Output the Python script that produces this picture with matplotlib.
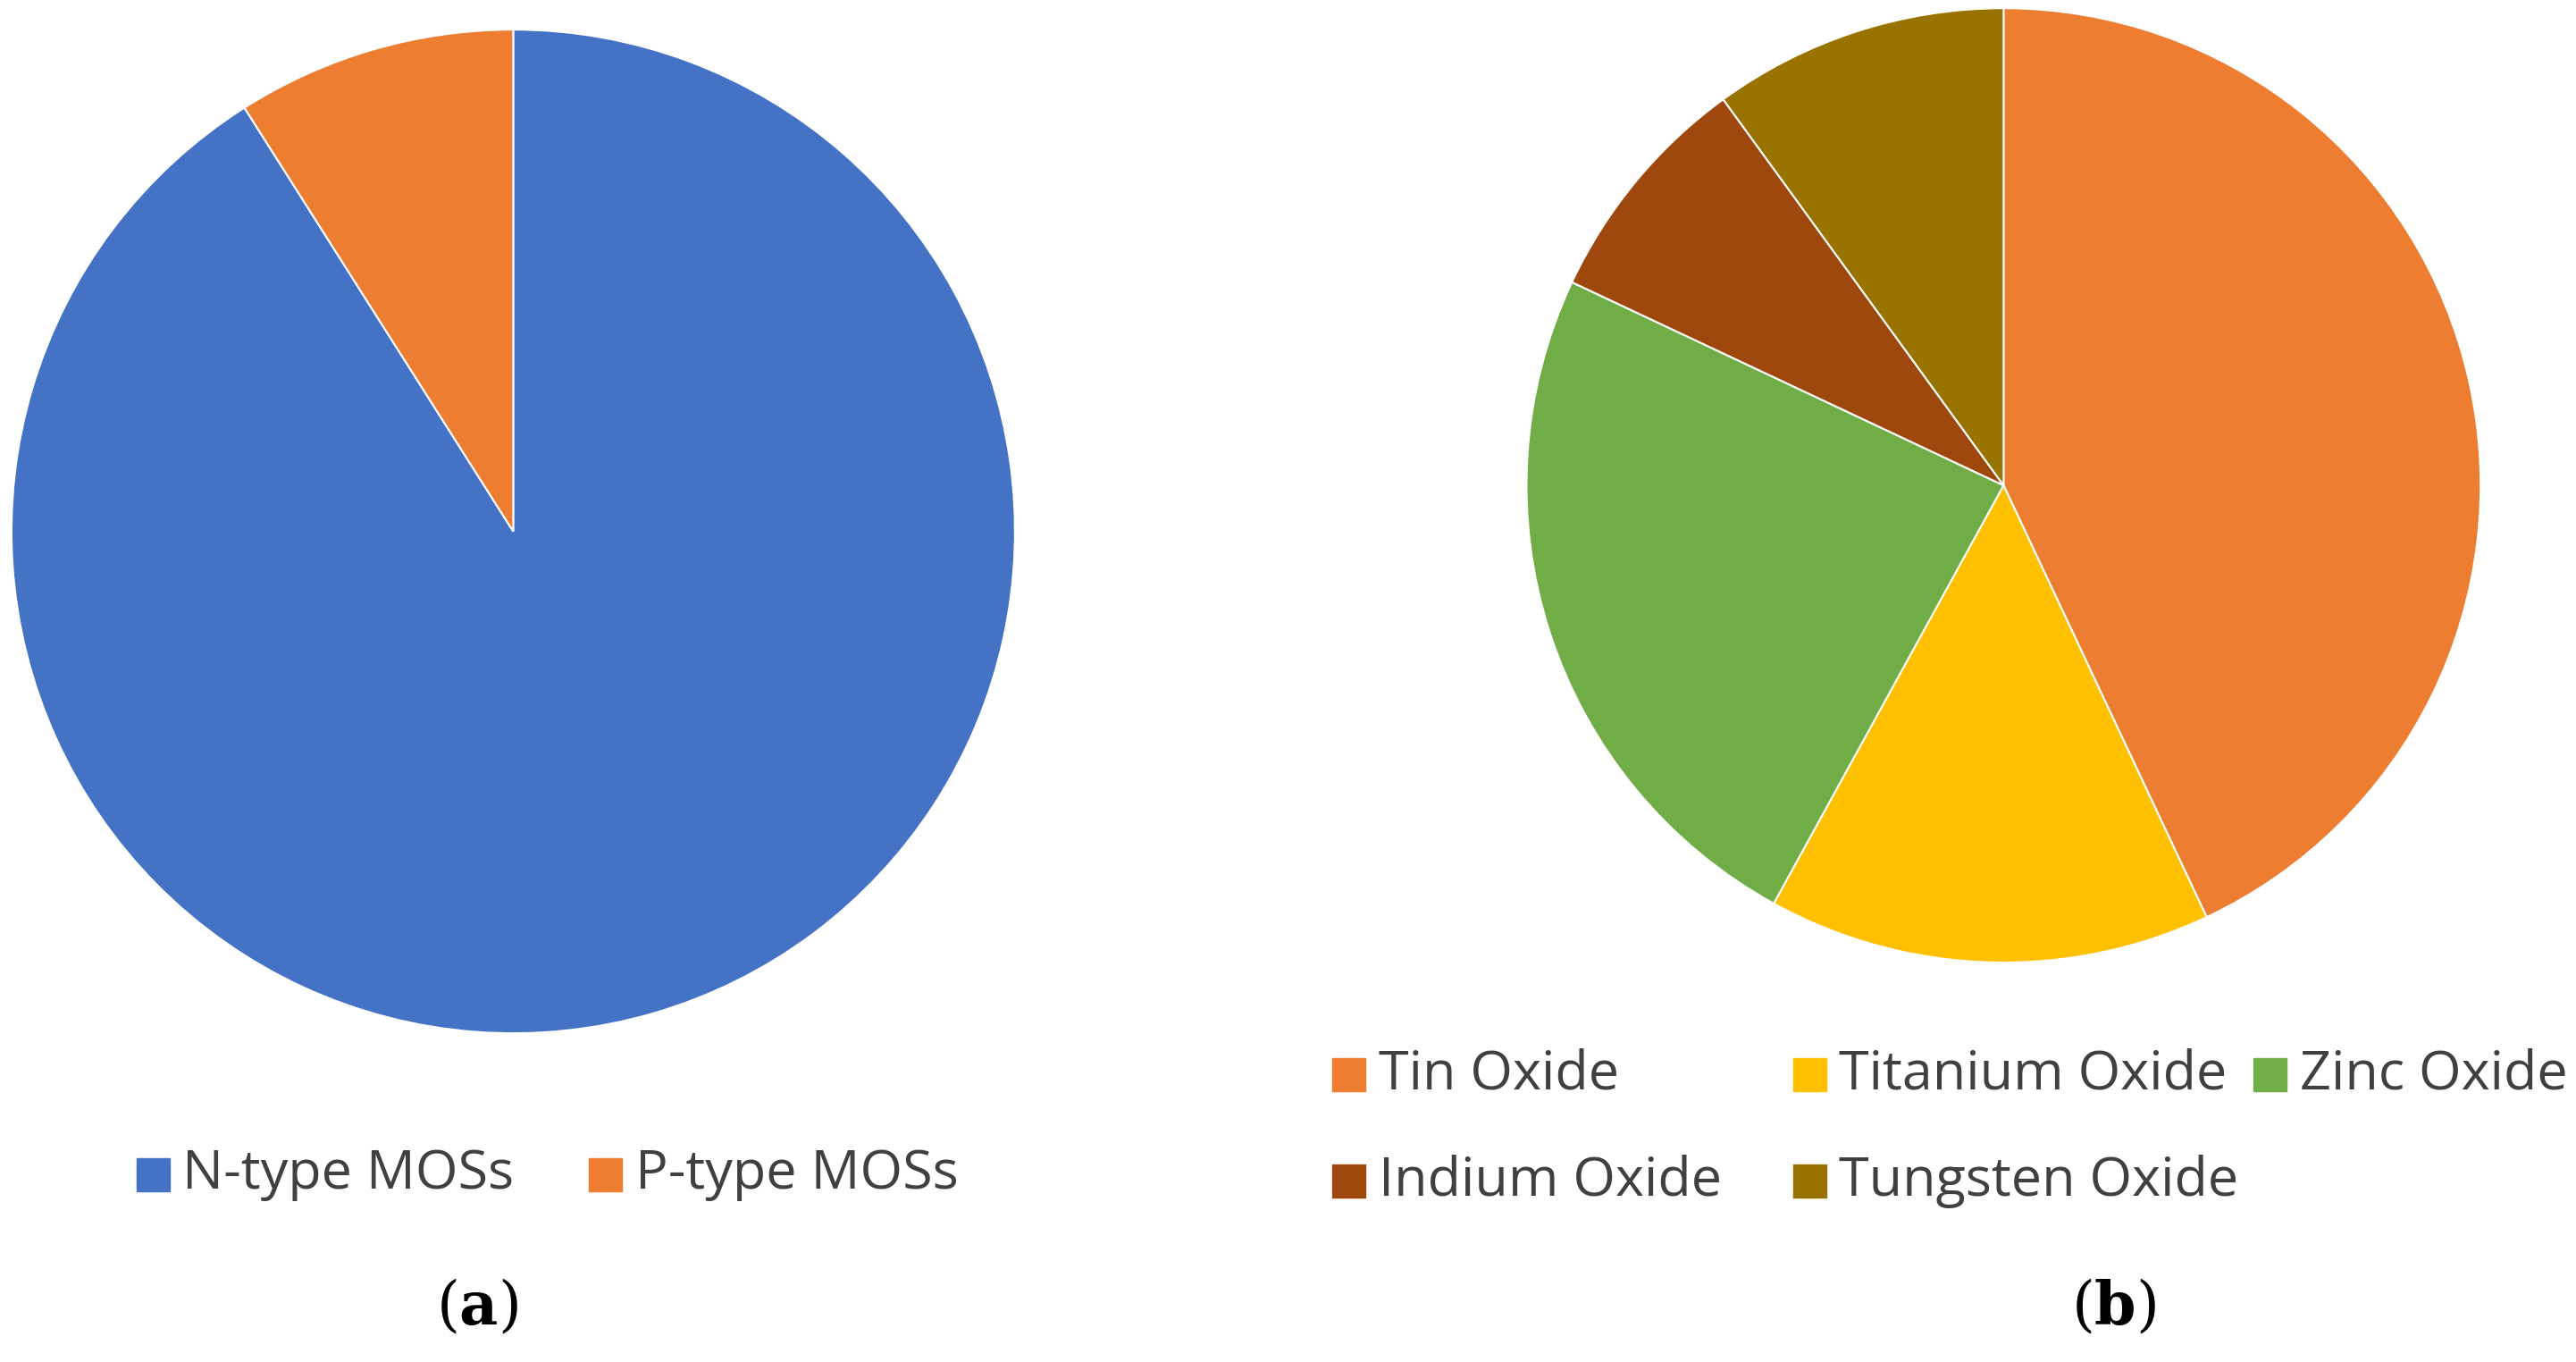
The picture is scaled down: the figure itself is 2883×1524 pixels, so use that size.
import matplotlib.pyplot as plt
from matplotlib.patches import Rectangle

W, H = 2883, 1524
S = W / 1566.0  # reference layout measured at 1566 px wide

# --- data ---
labels_a = ["N-type MOSs", "P-type MOSs"]
values_a = [91, 9]
colors_a = ["#4472C4", "#ED7D31"]

labels_b = ["Tin Oxide", "Titanium Oxide", "Zinc Oxide", "Indium Oxide", "Tungsten Oxide"]
values_b = [43, 15, 24, 8, 10]
colors_b = ["#ED7D31", "#FFC000", "#70AD47", "#9E480E", "#997300"]

fig = plt.figure(figsize=(W / 100, H / 100), dpi=100)
fig.patch.set_facecolor("white")

def pie_axes(cx, cy, r):
    # centre and radius in reference pixels (origin top-left)
    cx, cy, r = cx * S, cy * S, r * S
    return fig.add_axes([(cx - r) / W, 1 - (cy + r) / H, 2 * r / W, 2 * r / H])

def draw_pie(ax, values, colors):
    ax.pie(values, colors=colors, startangle=90, counterclock=False,
           wedgeprops=dict(edgecolor="white", linewidth=1.5))
    ax.set_xlim(-1, 1)
    ax.set_ylim(-1, 1)
    ax.set_aspect("equal")

ax1 = pie_axes(312, 323, 305)
draw_pie(ax1, values_a, colors_a)

ax2 = pie_axes(1218, 295, 290)
draw_pie(ax2, values_b, colors_b)

FS = 44
BOX = 20

def legend_item(x, y, color, text):
    # x = left edge of swatch, y = vertical centre, reference pixels
    fig.patches.append(Rectangle((x * S / W, 1 - (y + BOX / 2) * S / H),
                                 BOX * S / W, BOX * S / H, color=color,
                                 transform=fig.transFigure, figure=fig))
    fig.text((x + BOX + 8) * S / W, 1 - y * S / H, text, fontsize=FS,
             family="Open Sans", color="#404040", va="center", ha="left")

legend_item(83, 714, colors_a[0], labels_a[0])
legend_item(358, 714, colors_a[1], labels_a[1])

pos_b = [(810, 653), (1090, 653), (1370, 653), (810, 718), (1090, 718)]
for (x, y), c, t in zip(pos_b, colors_b, labels_b):
    legend_item(x, y, c, t)

fig.text(290 * S / W, 1 - 795 * S / H, r"($\mathbf{a}$)", fontsize=48,
         family="DejaVu Serif", math_fontfamily="dejavuserif", ha="center", va="center")
fig.text(1285 * S / W, 1 - 795 * S / H, r"($\mathbf{b}$)", fontsize=48,
         family="DejaVu Serif", math_fontfamily="dejavuserif", ha="center", va="center")

fig.savefig("out.png", dpi=100, facecolor="white")
